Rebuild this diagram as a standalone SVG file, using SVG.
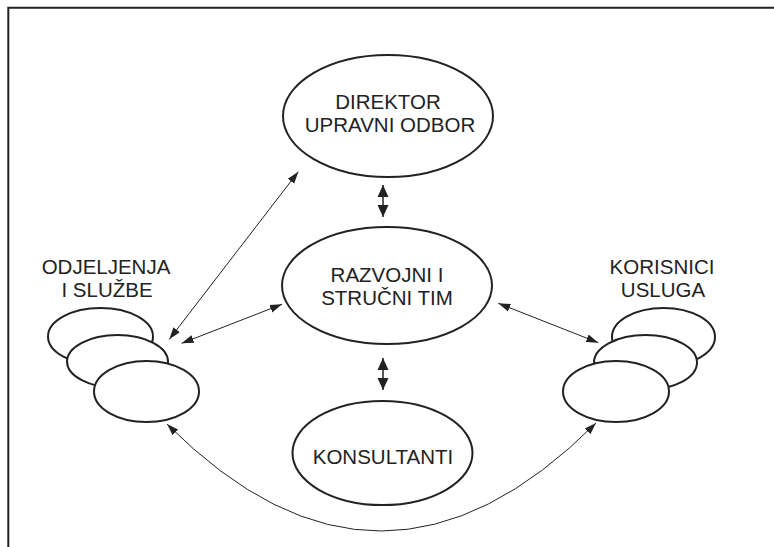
<svg xmlns="http://www.w3.org/2000/svg" width="774" height="547" viewBox="0 0 774 547">
<defs>
<style>
.e{fill:#fff;stroke:#222;stroke-width:2}
.t{font-family:"Liberation Sans",Arial,sans-serif;font-size:20.5px;fill:#222;text-anchor:middle}
.c{fill:none;stroke:#222;stroke-width:1}
.v{fill:none;stroke:#222;stroke-width:1.5}
</style>
<marker id="a" markerUnits="userSpaceOnUse" markerWidth="13" markerHeight="9" viewBox="0 0 13 9" refX="12" refY="4.5" orient="auto-start-reverse">
<path d="M0,0.5 L12,4.5 L0,8.5 z" fill="#222"/>
</marker>
<marker id="b" markerUnits="userSpaceOnUse" markerWidth="13" markerHeight="12" viewBox="0 0 13 12" refX="12" refY="6" orient="auto-start-reverse">
<path d="M0,0.5 L12,6 L0,11.5 z" fill="#222"/>
</marker>
</defs>
<rect width="774" height="547" fill="#fff"/>
<path d="M8.3,547 V7.7 H774" fill="none" stroke="#222" stroke-width="2"/>

<g id="connectors">
<line class="c" x1="298.3" y1="171.7" x2="169.3" y2="339.3" marker-start="url(#a)" marker-end="url(#a)"/>
<line class="c" x1="282" y1="304.3" x2="181.7" y2="343.3" marker-start="url(#a)" marker-end="url(#a)"/>
<line class="c" x1="498.3" y1="303.3" x2="598.3" y2="342.7" marker-start="url(#a)" marker-end="url(#a)"/>
<path class="c" d="M167,424 Q381,638.5 596,423" marker-start="url(#a)" marker-end="url(#a)"/>
<line class="v" x1="383" y1="185" x2="383" y2="217" marker-start="url(#b)" marker-end="url(#b)"/>
<line class="v" x1="383" y1="358" x2="383" y2="390" marker-start="url(#b)" marker-end="url(#b)"/>
</g>

<g id="direktor">
<ellipse class="e" cx="388" cy="116" rx="105" ry="61"/>
<text class="t" x="388" y="109">DIREKTOR</text>
<text class="t" x="390" y="131.5">UPRAVNI ODBOR</text>
</g>

<g id="razvojni">
<ellipse class="e" cx="387" cy="285.5" rx="105" ry="58.5"/>
<text class="t" x="387" y="281.5">RAZVOJNI I</text>
<text class="t" x="387" y="305">STRUČNI TIM</text>
</g>

<g id="konsultanti">
<ellipse class="e" cx="382.5" cy="453" rx="90" ry="52"/>
<text class="t" x="383" y="464">KONSULTANTI</text>
</g>

<g id="odjeljenja">
<text class="t" x="106" y="274">ODJELJENJA</text>
<text class="t" x="107" y="297">I SLUŽBE</text>
<ellipse class="e" cx="100.5" cy="336.5" rx="52.5" ry="28.5"/>
<ellipse class="e" cx="117.5" cy="361.5" rx="50.5" ry="26.5"/>
<ellipse class="e" cx="146.5" cy="391.5" rx="52.5" ry="30.5"/>
</g>

<g id="korisnici">
<text class="t" x="662" y="274">KORISNICI</text>
<text class="t" x="663" y="297">USLUGA</text>
<ellipse class="e" cx="663.5" cy="337" rx="51.5" ry="29"/>
<ellipse class="e" cx="645.5" cy="362.5" rx="51.5" ry="27.5"/>
<ellipse class="e" cx="616" cy="391.5" rx="53" ry="30.5"/>
</g>
</svg>
